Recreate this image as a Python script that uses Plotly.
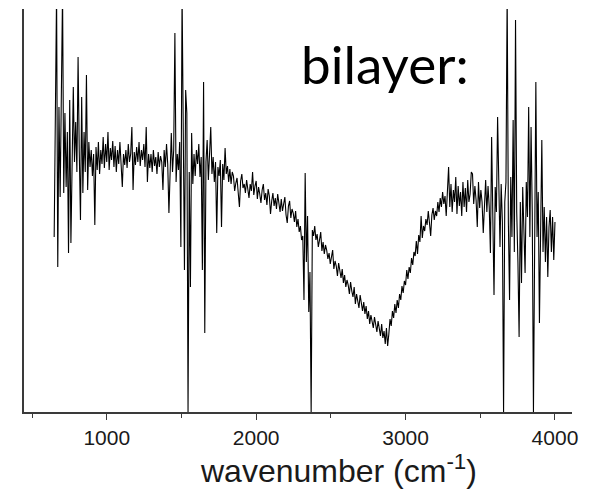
import plotly.graph_objects as go

# IR spectrum of the bilayer sample, sampled every 8 cm^-1 from 648 to 4000 cm^-1
wavenumber = list(range(648, 4001, 8))

# signal in arbitrary units (0 = bottom of the frame)
signal = [
    175, 285, 420, 145, 305, 215, 290, 420, 219, 299,
    225, 280, 159, 312, 169, 270, 325, 250, 290, 240,
    355, 260, 192, 315, 219, 280, 240, 337, 222, 270,
    245, 262, 236, 258, 187, 265, 242, 270, 238, 262,
    248, 275, 244, 268, 250, 280, 242, 264, 252, 271,
    245, 266, 240, 262, 248, 270, 243, 225, 258, 247,
    262, 244, 268, 250, 258, 285, 222, 260, 247, 265,
    250, 270, 246, 262, 252, 268, 245, 285, 230, 258,
    244, 258, 240, 262, 246, 255, 238, 260, 245, 256,
    250, 222, 262, 245, 268, 248, 199, 255, 279, 240,
    262, 379, 230, 258, 242, 270, 165, 420, 250, 142,
    322, 299, 0, 240, 125, 279, 228, 258, 236, 262,
    248, 268, 235, 255, 142, 330, 79, 250, 272, 232,
    258, 285, 238, 255, 230, 250, 179, 245, 236, 252,
    185, 248, 232, 264, 238, 246, 230, 243, 228, 240,
    236, 221, 229, 234, 219, 205, 231, 238, 224, 228,
    219, 232, 223, 214, 228, 221, 240, 217, 226, 231,
    213, 225, 218, 209, 222, 228, 212, 219, 207, 223,
    216, 198, 211, 219, 206, 214, 203, 218, 209, 200,
    213, 201, 208, 215, 197, 189, 206, 211, 194, 203,
    199, 190, 201, 185, 193, 180, 186, 172, 176, 112,
    239, 150, 196, 100, 140, 0, 182, 176, 186, 172,
    178, 165, 172, 180, 161, 170, 158, 167, 162, 153,
    159, 148, 155, 162, 143, 151, 146, 136, 149, 140,
    134, 143, 129, 137, 125, 132, 127, 118, 130, 121,
    115, 125, 108, 118, 112, 104, 117, 109, 101, 110,
    98, 106, 93, 101, 88, 97, 92, 84, 95, 89,
    80, 91, 85, 76, 88, 74, 81, 68, 84, 66,
    78, 93, 86, 101, 94, 108, 99, 112, 104, 118,
    112, 126, 119, 131, 127, 142, 133, 145, 139, 154,
    147, 160, 156, 171, 158, 177, 170, 196, 174, 186,
    181, 193, 187, 201, 189, 176, 197, 204, 192, 201,
    196, 210, 200, 214, 205, 220, 208, 216, 196, 222,
    245, 205, 228, 200, 222, 210, 235, 198, 226, 206,
    220, 196, 230, 205, 224, 200, 232, 210, 218, 240,
    238, 208, 226, 212, 185, 230, 204, 222, 210, 179,
    215, 232, 200, 226, 205, 159, 275, 210, 117, 225,
    200, 295, 215, 165, 228, 190, 0, 210, 230, 420,
    190, 112, 235, 175, 292, 160, 392, 200, 150, 75,
    210, 129, 225, 185, 139, 230, 195, 305, 175, 285,
    200, 0, 190, 330, 175, 220, 89, 215, 272, 160,
    205, 150, 195, 135, 185, 202, 160, 195, 152, 190,
]
assert len(signal) == len(wavenumber)

x_ticks = [1000, 2000, 3000, 4000]
x_tick_labels = ["1000", "2000", "3000", "4000"]

axis_color = "#3a3a3a"

fig = go.Figure()
fig.add_trace(go.Scatter(
    x=wavenumber, y=signal, mode="lines",
    line=dict(color="#000000", width=1.1),
    showlegend=False, hoverinfo="skip",
))

fig.update_layout(
    # the page body adds an 8 px margin around the figure
    width=581, height=482,
    margin=dict(l=16, r=17, t=1, b=78),
    paper_bgcolor="white", plot_bgcolor="white",
    xaxis=dict(
        range=[446, 4114],
        showline=True, linecolor=axis_color, linewidth=1.5,
        showgrid=False, zeroline=False,
        ticks="outside", ticklen=6, tickwidth=1.3, tickcolor=axis_color,
        tickvals=x_ticks, ticktext=x_tick_labels,
        tickfont=dict(family="Liberation Sans, Arial, sans-serif", size=21, color="#1a1a1a"),
        minor=dict(ticks="outside", dtick=500, tick0=0, ticklen=4,
                   tickwidth=1.2, tickcolor=axis_color, showgrid=False),
    ),
    yaxis=dict(
        range=[0, 403],
        showline=True, linecolor=axis_color, linewidth=1.5,
        showgrid=False, zeroline=False,
        ticks="", showticklabels=False,
    ),
    annotations=[
        dict(text="bilayer:", xref="paper", yref="paper",
             x=0.502, y=0.866, xanchor="left", yanchor="middle",
             showarrow=False,
             font=dict(family="Lato, sans-serif", size=53, color="#000000")),
        dict(text="wavenumber (cm<sup>-1</sup>)", xref="paper", yref="paper",
             x=0.573, y=-0.088, xanchor="center", yanchor="top",
             showarrow=False,
             font=dict(family="Liberation Sans, Arial, sans-serif", size=32, color="#1a1a1a")),
    ],
)

fig.write_html("out.html")
